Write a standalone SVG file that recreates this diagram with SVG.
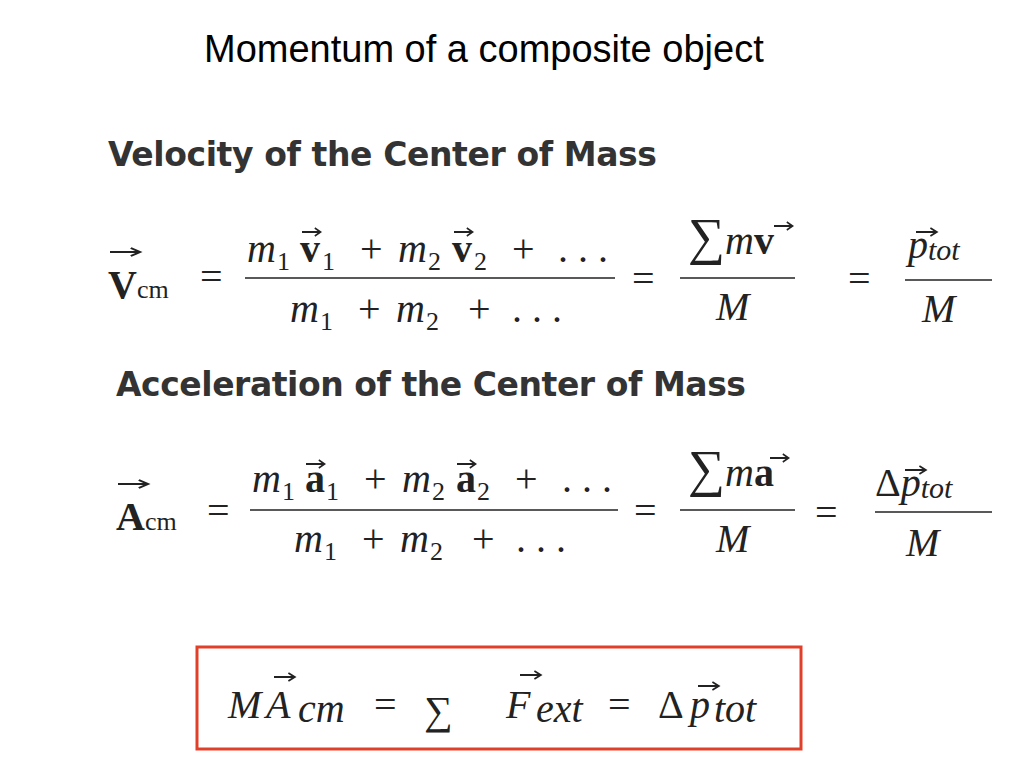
<svg xmlns="http://www.w3.org/2000/svg" width="1024" height="768" viewBox="0 0 1024 768">
<defs><path id="ar" d="M0 0 H22 M16 -4 L23 0 L16 4" stroke="#222" stroke-width="2" fill="none"/></defs>
<style>
.t{font-family:"Liberation Sans",Arial,sans-serif;font-size:38px;fill:#000}
.h{font-family:"DejaVu Sans","Liberation Sans",sans-serif;font-weight:bold;font-size:33px;fill:#333}
.m{font-family:"Liberation Serif","DejaVu Serif",serif;font-size:40px;fill:#222}
.i{font-style:italic}
.b{font-weight:bold}
.s{font-size:26px}
.f{stroke:#222;stroke-width:1.5}
</style>
<rect width="1024" height="768" fill="#fff"/>
<text class="t" x="204" y="62">Momentum of a composite object</text>
<text class="h" x="108" y="166" textLength="549">Velocity of the Center of Mass</text>
<text class="h" x="116" y="396" textLength="630">Acceleration of the Center of Mass</text>

<g id="eq1">
<text class="m b" x="108" y="298">V<tspan class="s" font-weight="normal">cm</tspan></text>
<use href="#ar" transform="translate(110 252) scale(1.3 1)"/>
<text class="m" x="200" y="290" font-size="44">=</text>
<text class="m i" x="247" y="262">m</text><text class="m s" x="277" y="270">1</text>
<text class="m b" x="300" y="262">v</text><text class="m s" x="322" y="270">1</text>
<text class="m" x="360" y="262">+</text>
<text class="m i" x="398" y="262">m</text><text class="m s" x="428" y="270">2</text>
<text class="m b" x="452" y="262">v</text><text class="m s" x="474" y="270">2</text>
<text class="m" x="512" y="262">+</text>
<text class="m" x="558" y="262">. . .</text>
<line class="f" x1="245" y1="278" x2="615" y2="278"/>
<text class="m i" x="290" y="322">m</text><text class="m s" x="320" y="330">1</text>
<text class="m" x="358" y="322">+</text>
<text class="m i" x="396" y="322">m</text><text class="m s" x="426" y="330">2</text>
<text class="m" x="468" y="322">+</text>
<text class="m" x="512" y="322">. . .</text>
<text class="m" x="632" y="292" font-size="44">=</text>
<text class="m" x="688" y="254"><tspan font-size="52">∑</tspan><tspan class="i">m</tspan><tspan class="b">v</tspan></text>
<line class="f" x1="680" y1="278" x2="795" y2="278"/>
<text class="m i" x="716" y="320">M</text>
<text class="m" x="848" y="292" font-size="52">=</text>
<text class="m i" x="908" y="258" font-size="44">p<tspan font-size="30" dy="2">tot</tspan></text>
<line class="f" x1="905" y1="280" x2="992" y2="280"/>
<text class="m i" x="922" y="322" font-size="48">M</text>
</g>

<g id="eq2">
<text class="m b" x="116" y="530">A<tspan class="s" font-weight="normal">cm</tspan></text>
<use href="#ar" transform="translate(118 484) scale(1.3 1)"/>
<text class="m" x="207" y="524" font-size="44">=</text>
<text class="m i" x="252" y="492">m</text><text class="m s" x="282" y="500">1</text>
<text class="m b" x="305" y="492">a</text><text class="m s" x="326" y="500">1</text>
<text class="m" x="364" y="492">+</text>
<text class="m i" x="402" y="492">m</text><text class="m s" x="432" y="500">2</text>
<text class="m b" x="456" y="492">a</text><text class="m s" x="477" y="500">2</text>
<text class="m" x="515" y="492">+</text>
<text class="m" x="562" y="492">. . .</text>
<line class="f" x1="250" y1="510" x2="618" y2="510"/>
<text class="m i" x="294" y="552">m</text><text class="m s" x="324" y="560">1</text>
<text class="m" x="362" y="552">+</text>
<text class="m i" x="400" y="552">m</text><text class="m s" x="430" y="560">2</text>
<text class="m" x="472" y="552">+</text>
<text class="m" x="516" y="552">. . .</text>
<text class="m" x="634" y="524" font-size="44">=</text>
<text class="m" x="688" y="486"><tspan font-size="52">∑</tspan><tspan class="i">m</tspan><tspan class="b">a</tspan></text>
<line class="f" x1="680" y1="510" x2="795" y2="510"/>
<text class="m i" x="716" y="552">M</text>
<text class="m" x="815" y="526" font-size="52">=</text>
<text class="m i" x="875" y="496" font-size="44"><tspan font-style="normal">Δ</tspan>p<tspan font-size="30" dy="2">tot</tspan></text>
<line class="f" x1="875" y1="512" x2="992" y2="512"/>
<text class="m i" x="906" y="556" font-size="48">M</text>
</g>

<g id="arrows">
<use href="#ar" transform="translate(302 232) scale(0.8 1)"/>
<use href="#ar" transform="translate(454 232) scale(0.8 1)"/>
<use href="#ar" transform="translate(774 226) scale(0.8 1)"/>
<use href="#ar" transform="translate(916 232) scale(0.9 1)"/>
<use href="#ar" transform="translate(306 464) scale(0.8 1)"/>
<use href="#ar" transform="translate(457 464) scale(0.8 1)"/>
<use href="#ar" transform="translate(770 458) scale(0.8 1)"/>
<use href="#ar" transform="translate(905 470) scale(0.9 1)"/>
<use href="#ar" transform="translate(274 677) scale(0.9 1)"/>
<use href="#ar" transform="translate(520 675) scale(0.9 1)"/>
<use href="#ar" transform="translate(698 686) scale(0.9 1)"/>
</g>

<g id="box">
<rect x="197" y="647" width="604" height="102" fill="none" stroke="#e0402a" stroke-width="3"/>
<text class="m i" x="228" y="718" font-size="44">M</text>
<text class="m i" x="266" y="718" font-size="44">A</text>
<text class="m i" x="298" y="722" font-size="32">cm</text>
<text class="m" x="374" y="718" font-size="48">=</text>
<text class="m" x="424" y="724" font-size="64">∑</text>
<text class="m i" x="506" y="718" font-size="44">F</text>
<text class="m i" x="536" y="722" font-size="32">ext</text>
<text class="m" x="608" y="718" font-size="48">=</text>
<text class="m" x="658" y="718" font-size="44">Δ</text>
<text class="m i" x="690" y="718" font-size="44">p</text>
<text class="m i" x="714" y="722" font-size="32">tot</text>
</g>
</svg>
